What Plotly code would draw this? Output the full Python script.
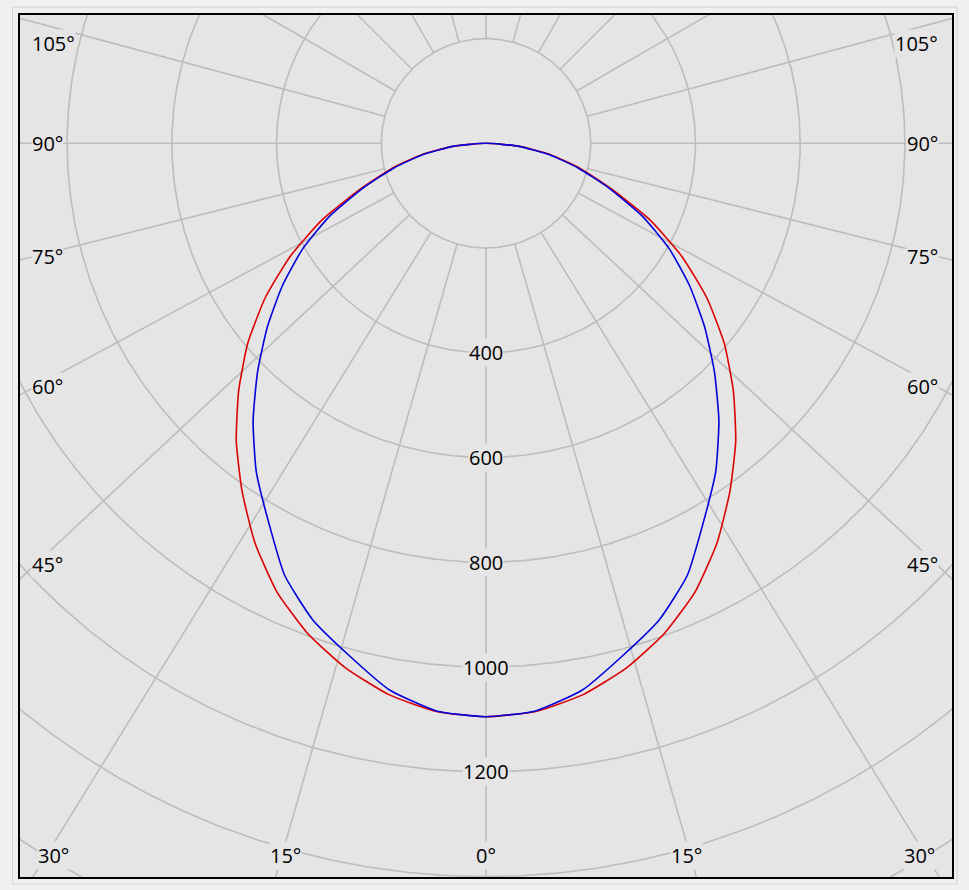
import numpy as np
import plotly.graph_objects as go

# ---------------- data (luminous intensity, cd) ----------------
ANGLES = [0, 5, 10, 15, 20, 25, 30, 35, 40, 45, 50, 55, 60, 65, 70, 75, 80, 85, 90]
RED_C0_C180 = [1095, 1089, 1069, 1037, 996, 945, 882, 812, 742, 668, 594, 515, 432, 345, 255, 187, 125, 62, 0]
BLUE_C90_C270 = [1095, 1088, 1060, 1012, 968, 910, 832, 765, 692, 617, 545, 475, 405, 330, 250, 182, 122, 61, 0]

RINGS = [200, 400, 600, 800, 1000, 1200, 1400, 1600]
RING_LABELS = [400, 600, 800, 1000, 1200]
SPOKE_ANGLES = list(range(0, 360, 15))
SIDE_LABELS = [45, 60, 75, 90, 105]
BOTTOM_LABELS = [0, 15, 30]

# ---------------- layout constants ----------------
W, H = 969, 890
ML, MR, MT, MB = 20, 17, 15, 13
PW, PH = W - ML - MR, H - MT - MB
X_HALF = 890.0
Y_TOP = 245.0
Y_BOT = -1401.0
CDPP = 2 * X_HALF / PW          # cd per pixel
K = 1.07                          # spoke spread in lower half (as drawn in the reference)
INNER = 200
GRID = "#bdbdbd"
FONT = dict(family="Open Sans, Segoe UI, DejaVu Sans, sans-serif", size=20, color="black")
BG = "#e5e5e5"


def spoke_dir(phi):
    a = np.radians(phi)
    dx, dy = np.sin(a), -np.cos(a)
    if dy < -1e-9:
        dx *= K
    n = np.hypot(dx, dy)
    return dx / n, dy / n


def curve_xy(vals):
    ang = [-a for a in ANGLES[::-1]] + ANGLES[1:]
    r = vals[::-1] + vals[1:]
    a = np.radians(ang)
    r = np.array(r, dtype=float)
    return r * np.sin(a), -r * np.cos(a)


fig = go.Figure()

# rings
rx, ry = [], []
t = np.linspace(0, 2 * np.pi, 721)
for r in RINGS:
    rx += list(r * np.cos(t)) + [None]
    ry += list(r * np.sin(t)) + [None]
fig.add_trace(go.Scatter(x=rx, y=ry, mode="lines", line=dict(color=GRID, width=1.6),
                         hoverinfo="skip"))

# spokes
sx, sy = [], []
for phi in SPOKE_ANGLES:
    dx, dy = spoke_dir(phi)
    sx += [INNER * dx, 4000 * dx, None]
    sy += [INNER * dy, 4000 * dy, None]
fig.add_trace(go.Scatter(x=sx, y=sy, mode="lines", line=dict(color=GRID, width=1.6),
                         hoverinfo="skip"))

# curves
x, y = curve_xy(RED_C0_C180)
fig.add_trace(go.Scatter(x=x, y=y, mode="lines",
                         line=dict(color="rgb(220,0,0)", width=1.6, shape="spline", smoothing=0.5),
                         name="C0-C180"))
x, y = curve_xy(BLUE_C90_C270)
fig.add_trace(go.Scatter(x=x, y=y, mode="lines",
                         line=dict(color="rgb(0,0,220)", width=1.6, shape="spline", smoothing=0.5),
                         name="C90-C270"))

ann = []
# ring labels
for r in RING_LABELS:
    ann.append(dict(x=0, y=-r, text=str(r), showarrow=False, font=FONT, bgcolor=BG,
                    borderpad=0, xanchor="center", yanchor="middle"))

# side labels (left and right)
x_edge = X_HALF - 15 * CDPP
y_max = Y_TOP - 28 * CDPP
for phi in SIDE_LABELS:
    dx, dy = spoke_dir(phi)
    yy = abs(x_edge / dx) * dy
    yy = min(yy, y_max)
    ann.append(dict(x=-X_HALF + 11 * CDPP, y=yy, text=f"{phi}°", showarrow=False, font=FONT,
                    bgcolor=BG, borderpad=0, xanchor="left", yanchor="middle"))
    ann.append(dict(x=X_HALF - 13 * CDPP, y=yy, text=f"{phi}°", showarrow=False, font=FONT,
                    bgcolor=BG, borderpad=0, xanchor="right", yanchor="middle"))

# bottom labels
y_lab = Y_BOT + 21.5 * CDPP
x_max = X_HALF - 33 * CDPP
for phi in BOTTOM_LABELS:
    dx, dy = spoke_dir(phi)
    xx = (abs(y_lab / dy) * dx - 4 * CDPP) if phi else 0.0
    xx = min(xx, x_max)
    for s in ([1] if phi == 0 else [-1, 1]):
        ann.append(dict(x=s * xx, y=y_lab, text=f"{phi}°", showarrow=False, font=FONT,
                        bgcolor=BG, borderpad=0, xanchor="center", yanchor="middle"))

# outer light border of the panel
shapes = [dict(type="rect", xref="paper", yref="paper",
               x0=(12.5 - ML) / PW, x1=(957 - ML) / PW,
               y0=-(884 - MT - PH) / PH, y1=1 + (MT - 7) / PH,
               line=dict(color="#d2d2d2", width=1), fillcolor="rgba(0,0,0,0)", layer="below")]

axis_common = dict(showgrid=False, zeroline=False, showticklabels=False, ticks="",
                   showline=True, mirror=True, linecolor="black", linewidth=1.6, fixedrange=True)
fig.update_layout(
    width=W, height=H,
    margin=dict(l=ML, r=MR, t=MT, b=MB),
    paper_bgcolor="#f0f0f0", plot_bgcolor=BG,
    showlegend=False,
    xaxis=dict(range=[-X_HALF, X_HALF], **axis_common),
    yaxis=dict(range=[Y_BOT, Y_TOP], **axis_common),
    annotations=ann,
    shapes=shapes,
)

fig.write_html("out.html", config={"displayModeBar": False},
               post_script="document.body.style.margin='0';document.body.style.overflow='hidden';")
